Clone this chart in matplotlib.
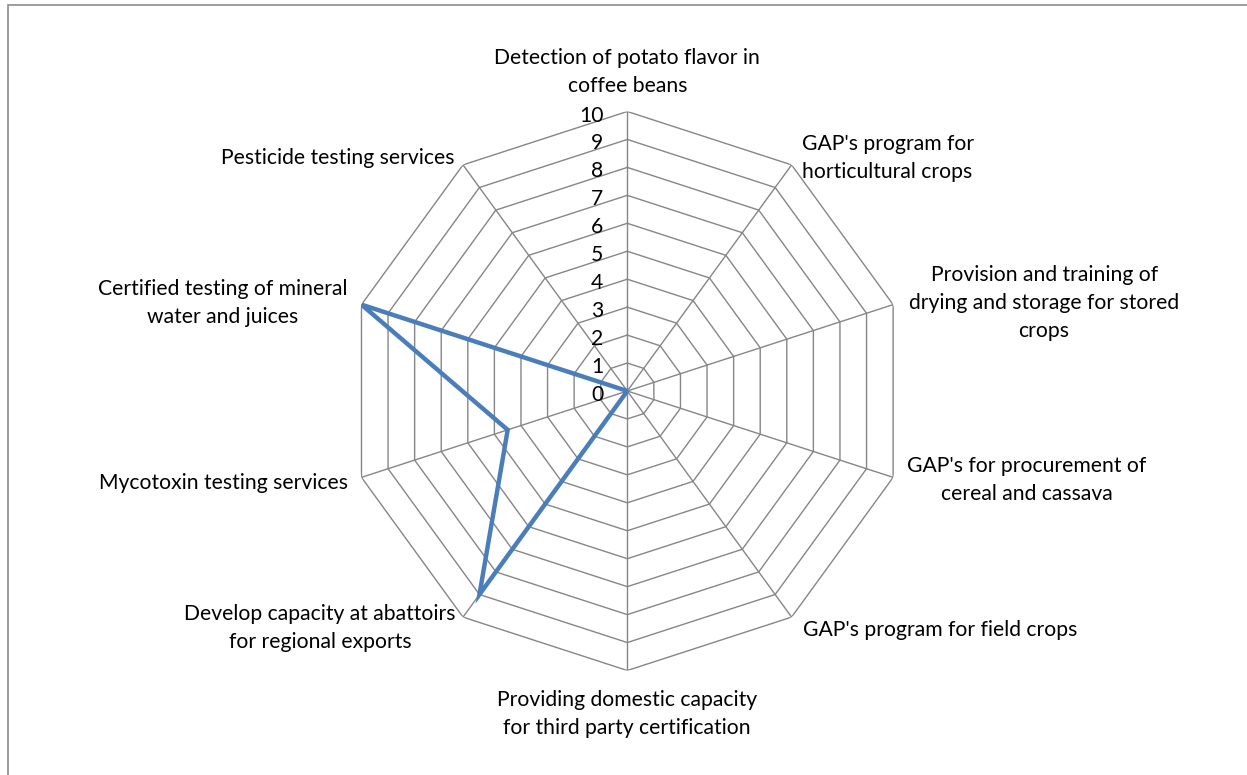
import numpy as np
import matplotlib
matplotlib.use("Agg")
import matplotlib.pyplot as plt
from matplotlib.patches import Rectangle

# ---------------- data ----------------
categories = [
    "Detection of potato flavor in\ncoffee beans",
    "GAP's program for\nhorticultural crops",
    "Provision and training of\ndrying and storage for stored\ncrops",
    "GAP's for procurement of\ncereal and cassava",
    "GAP's program for field crops",
    "Providing domestic capacity\nfor third party certification",
    "Develop capacity at abattoirs\nfor regional exports",
    "Mycotoxin testing services",
    "Certified testing of mineral\nwater and juices",
    "Pesticide testing services",
]
values = [0, 0, 0, 0, 0, 0, 9, 4.5, 10, 0]
tick_values = [0, 1, 2, 3, 4, 5, 6, 7, 8, 9, 10]
tick_labels = ["0", "1", "2", "3", "4", "5", "6", "7", "8", "9", "10"]

# ---------------- layout / style ----------------
W, H = 1247, 775
DPI = 100
cx, cy, R = 627.3, 391.0, 279.5       # pixel centre / outer radius
grid_color = "#868686"
line_color = "#4A7EBB"
FONT = ["Lato", "DejaVu Sans"]
FS = 15.2

# label offsets (pixels, from outer vertex; x right, y up)
label_offsets = [(0, 40), (96, 7), (151, 2), (134, -3), (149, -13),
                 (0, -44), (-143, -11), (-138, -6), (-139, 2), (-125, 7)]

plt.rcParams["font.family"] = FONT
fig = plt.figure(figsize=(W / DPI, H / DPI), dpi=DPI)
fig.patch.set_facecolor("white")

# outer chart border (only left and top edges visible)
fig.add_artist(Rectangle((7.5 / W, -0.05), 1.2, 1 - 5.0 / H + 0.05,
                         transform=fig.transFigure, fill=False,
                         edgecolor="#8c8c8c", linewidth=1.2))

ax = fig.add_axes([(cx - R) / W, 1 - (cy + R) / H, 2 * R / W, 2 * R / H],
                  projection="polar")
ax.set_theta_zero_location("N")
ax.set_theta_direction(-1)
ax.set_ylim(0, max(tick_values))
ax.grid(False)
ax.set_xticks([])
ax.set_yticks([])
ax.spines["polar"].set_visible(False)
ax.patch.set_alpha(0)

n = len(categories)
theta = np.linspace(0, 2 * np.pi, n, endpoint=False)
theta_c = np.append(theta, theta[0])

# polygon grid
for k in tick_values[1:]:
    ax.plot(theta_c, [k] * (n + 1), color=grid_color, lw=1.0, zorder=1)
for t in theta:
    ax.plot([t, t], [0, max(tick_values)], color=grid_color, lw=1.0, zorder=1)

# data series
vals_c = values + values[:1]
ax.plot(theta_c, vals_c, color=line_color, lw=3.2, zorder=3,
        solid_joinstyle="miter", solid_capstyle="butt")

# radial tick labels
for v, lab in zip(tick_values, tick_labels):
    ax.annotate(lab, xy=(0, v), xytext=(-24, -4), textcoords="offset pixels",
                ha="right", va="center", fontsize=FS, color="black",
                annotation_clip=False)

# category labels
for t, lab, off in zip(theta, categories, label_offsets):
    ax.annotate(lab, xy=(t, max(tick_values)), xytext=off,
                textcoords="offset pixels", ha="center", va="center",
                multialignment="center", fontsize=FS, color="black",
                linespacing=1.5, annotation_clip=False)

fig.savefig("out.png", dpi=DPI)
